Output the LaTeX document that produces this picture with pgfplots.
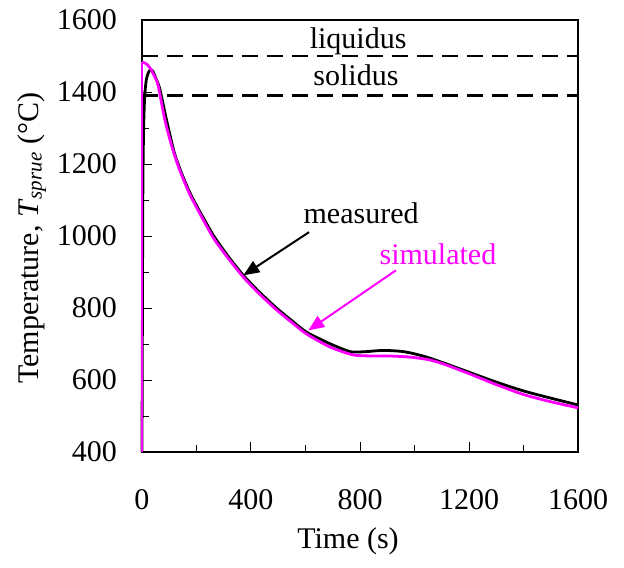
\documentclass[border=0pt]{standalone}
\usepackage{fontspec}
\setmainfont{Liberation Serif}
\usepackage{pgfplots}
\pgfplotsset{compat=1.18}
\usetikzlibrary{arrows.meta}
\definecolor{mag}{RGB}{255,0,255}
\begin{document}
\fontsize{30bp}{36bp}\selectfont
\begin{tikzpicture}
\begin{axis}[
  scale only axis,
  width=436bp, height=432bp,
  xmin=0, xmax=1600, ymin=400, ymax=1600,
  xtick={0,400,...,1600}, minor xtick={200,600,1000,1400},
  xticklabels={\textrm{0},\textrm{400},\textrm{800},\textrm{1200},\textrm{1600}},
  ytick={400,600,...,1600}, minor ytick={500,700,...,1500},
  yticklabels={\textrm{400},\textrm{600},\textrm{800},\textrm{1000},\textrm{1200},\textrm{1400},\textrm{1600}},
  tick pos=left, tick align=inside,
  major tick length=10bp, minor tick length=7bp,
  every tick/.style={black, line width=1bp},
  axis line style={line width=2bp},
  tick label style={font=\fontsize{30bp}{36bp}\selectfont\rmfamily},
  yticklabel style={xshift=-15bp},
  xticklabel style={yshift=-27bp},
  label style={font=\fontsize{30bp}{36bp}\selectfont},
  xlabel={Time (s)},
  xlabel style={at={(axis description cs:0.4725,0)}, anchor=north, yshift=-65bp},
  ylabel={Temperature, \textit{T}\textsubscript{\textit{sprue}} (°C)},
  ylabel style={at={(axis description cs:-0.2385,0.495)}, anchor=base, rotate=0},
  clip=false,
]
% liquidus / solidus
\addplot[black, line width=2.6bp, dash pattern=on 16bp off 9bp] coordinates {(0,1500) (1600,1500)};
\addplot[black, line width=2.6bp, dash pattern=on 16bp off 9bp] coordinates {(0,1390) (1600,1390)};
% measured
\addplot[black, line width=2.8bp, smooth, tension=0.4] coordinates {
(0,400) (3,1100) (6,1300) (10,1390) (16,1435) (24,1455) (32,1462) (40,1458)
(50,1440) (65,1410) (89,1326) (117,1236) (139,1187) (170,1130) (200,1085)
(262,1002) (320,940) (372,891) (430,845) (494,800) (550,765) (604,733)
(690,701) (751,682) (775,678) (820,679) (870,682) (910,682) (950,680)
(983,676) (1040,665) (1106,648) (1200,622) (1302,594) (1400,570) (1500,550) (1600,531)
};
% simulated
\addplot[mag, line width=2.8bp] coordinates {(0,400) (0,1483)};
\addplot[mag, line width=2.8bp, smooth, tension=0.4] coordinates {
(0,1483) (10,1481) (20,1476) (34,1462) (45,1445) (59,1419) (83,1326)
(108,1253) (135,1190) (170,1125) (200,1080) (262,995) (320,935) (372,886)
(430,840) (494,795) (550,760) (604,728) (690,692) (775,670) (850,667)
(910,667) (983,664) (1050,657) (1106,645) (1200,618) (1302,587) (1400,560)
(1500,540) (1600,523)
};
\node[anchor=base] at (axis cs:793,1520) {liquidus};
\node[anchor=base] at (axis cs:785,1419) {solidus};
\node[anchor=base] at (axis cs:804,1034) {measured};
\node[anchor=base, text=mag] at (axis cs:1086,921) {simulated};
\draw[black, line width=2bp, -{Triangle[length=16bp,width=13bp]}] (axis cs:613,1011) -- (axis cs:372,891);
\draw[mag, line width=2bp, -{Triangle[length=16bp,width=13bp]}] (axis cs:932,905) -- (axis cs:610,738);
\end{axis}
\path (current axis.south west) ++(-142bp,-115bp) rectangle ++(624bp,565bp);
\end{tikzpicture}
\end{document}
